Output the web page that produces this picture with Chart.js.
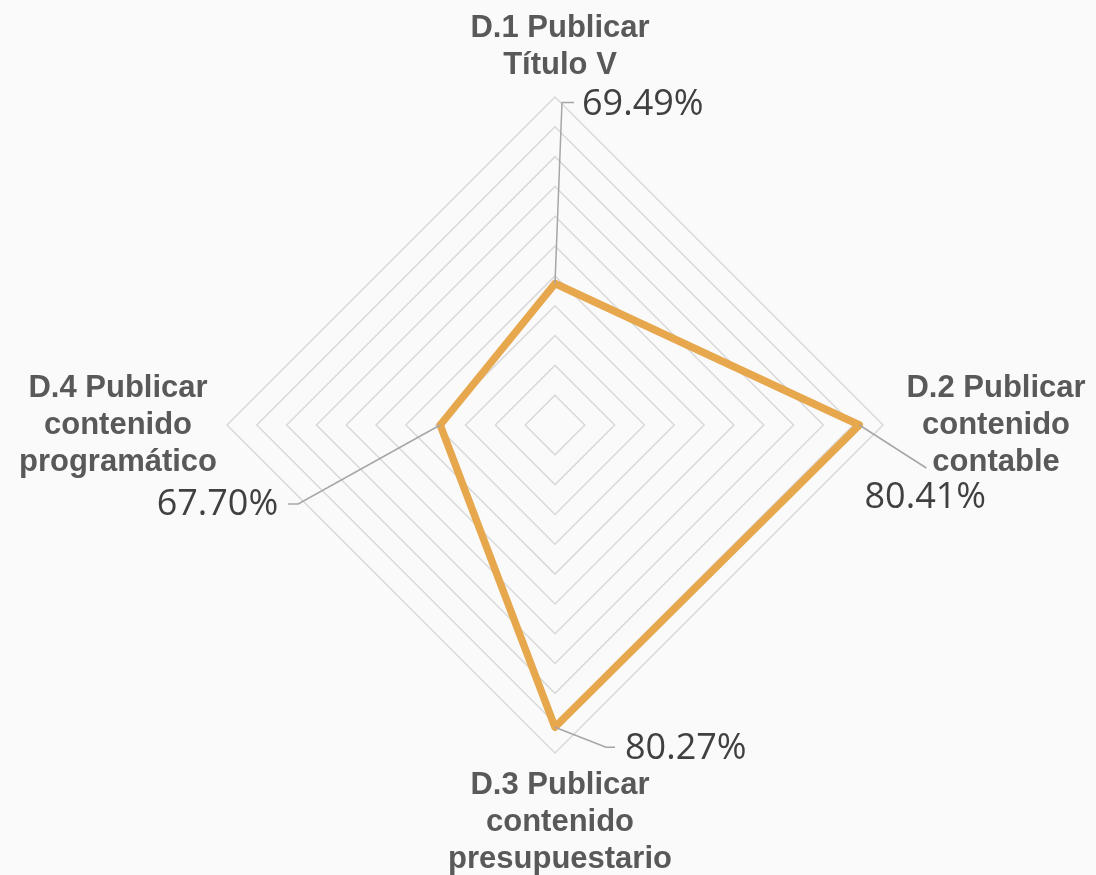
<!DOCTYPE html>
<html lang="es">
<head>
    <meta charset="UTF-8">
    <title>Radar publicar</title>
    <script src="https://cdn.jsdelivr.net/npm/chart.js"></script>
    <style>
        html, body {
            margin: 0;
            padding: 0;
            background: #fafafa;
        }
        .wrap {
            width: 1096px;
            height: 875px;
        }
    </style>
</head>
<body>
    <div class="wrap"><canvas id="radar" width="1096" height="875"></canvas></div>
    <script>
        const categories = [
            ['D.1 Publicar', 'Título V'],
            ['D.2 Publicar', 'contenido', 'contable'],
            ['D.3 Publicar', 'contenido', 'presupuestario'],
            ['D.4 Publicar', 'contenido', 'programático']
        ];
        const values = [69.49, 80.41, 80.27, 67.70];
        const scaleMin = 60;
        const scaleMax = 82;
        const scaleStep = 2;

        // where each value label and its leader line sit, relative to the point
        const labelLayout = [
            { path: [[7, -181], [19, -181]], text: [27, -179], align: 'left' },
            { path: [[67, 43]], text: [66, 73], align: 'center' },
            { path: [[51, 20], [60, 20]], text: [70, 22], align: 'left' },
            { path: [[-142, 79], [-152, 79]], text: [-162, 80], align: 'right' }
        ];
        // category label block centre, relative to the outer vertex
        const catLayout = [
            { dx: 5, dy: -50 },
            { dx: 113, dy: 0 },
            { dx: 5, dy: 69 },
            { dx: -109, dy: 0 }
        ];
        const lineGap = 37;

        const labelsPlugin = {
            id: 'labels',
            afterDatasetsDraw(chart) {
                const ctx = chart.ctx;
                const scale = chart.scales.r;
                const meta = chart.getDatasetMeta(0);
                ctx.save();

                // leader lines + value labels
                meta.data.forEach((pt, i) => {
                    const lay = labelLayout[i];
                    ctx.strokeStyle = '#a6a6a6';
                    ctx.lineWidth = 1.5;
                    ctx.beginPath();
                    ctx.moveTo(pt.x, pt.y);
                    lay.path.forEach(p => ctx.lineTo(pt.x + p[0], pt.y + p[1]));
                    ctx.stroke();

                    ctx.fillStyle = '#404040';
                    ctx.font = '36px "Open Sans"';
                    ctx.textAlign = lay.align;
                    ctx.textBaseline = 'middle';
                    ctx.fillText(values[i].toFixed(2) + '%', pt.x + lay.text[0], pt.y + lay.text[1]);
                });

                // category labels
                ctx.fillStyle = '#595959';
                ctx.font = 'bold 31px "Liberation Sans", Arial, sans-serif';
                ctx.textAlign = 'center';
                ctx.textBaseline = 'middle';
                categories.forEach((lines, i) => {
                    const v = scale.getPointPosition(i, scale.drawingArea);
                    const cx = v.x + catLayout[i].dx;
                    const cy = v.y + catLayout[i].dy;
                    const top = cy - (lines.length - 1) * lineGap / 2;
                    lines.forEach((t, k) => ctx.fillText(t, cx, top + k * lineGap));
                });
                ctx.restore();
            }
        };

        new Chart(document.getElementById('radar'), {
            type: 'radar',
            data: {
                labels: categories,
                datasets: [{
                    data: values,
                    borderColor: '#e7a74c',
                    borderWidth: 7.5,
                    borderJoinStyle: 'round',
                    pointRadius: 0,
                    pointHoverRadius: 0,
                    fill: false
                }]
            },
            options: {
                responsive: false,
                animation: false,
                layout: { padding: { left: 227, right: 213, top: 97, bottom: 122 } },
                plugins: { legend: { display: false }, tooltip: { enabled: false } },
                scales: {
                    r: {
                        min: scaleMin,
                        max: scaleMax,
                        ticks: { stepSize: scaleStep, display: false },
                        grid: { color: '#d9d9d9', lineWidth: 1.5 },
                        angleLines: { display: false },
                        pointLabels: { display: false }
                    }
                }
            },
            plugins: [labelsPlugin]
        });
    </script>
</body>
</html>
